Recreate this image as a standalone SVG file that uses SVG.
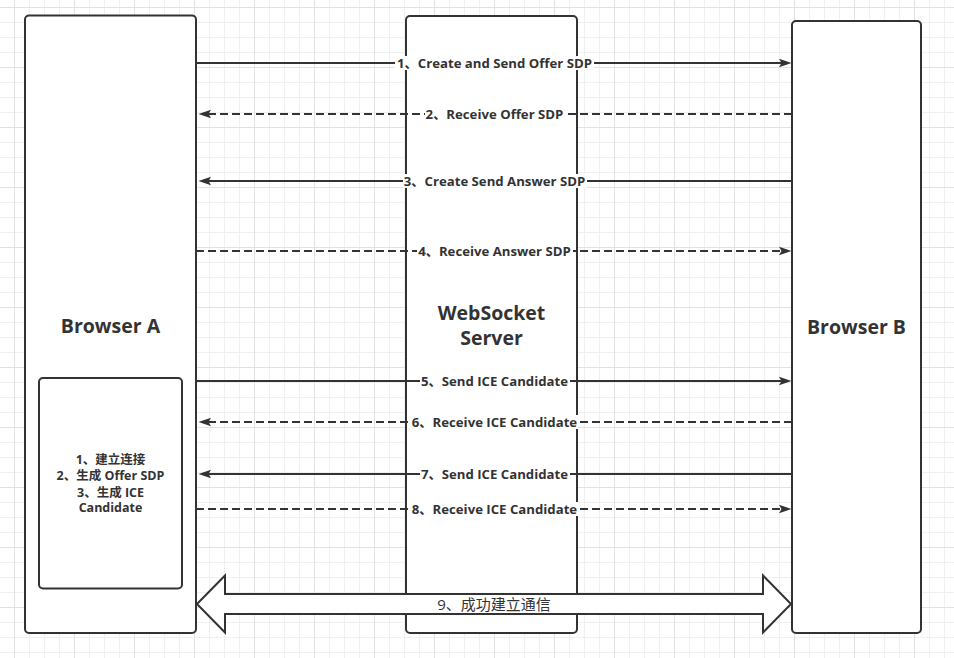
<svg xmlns="http://www.w3.org/2000/svg" width="954" height="658" viewBox="0 0 954 658">
<defs>
<pattern id="grid" patternUnits="userSpaceOnUse" x="14" y="7" width="60" height="60">
<path d="M15.5,0V60M30.5,0V60M45.5,0V60M0,15.5H60M0,30.5H60M0,45.5H60" stroke="#f0f0f0" stroke-width="1" fill="none"/>
<path d="M0.5,0V60M0,0.5H60" stroke="#e2e2e2" stroke-width="1" fill="none"/>
</pattern>
<marker id="ah" markerUnits="userSpaceOnUse" viewBox="0 0 13 10" refX="6" refY="5" markerWidth="13" markerHeight="10" orient="auto">
<path d="M0,0.8 L12.5,5 L0,9.2 L2.5,5 Z" fill="#333333"/>
</marker>
<style>
.box{fill:#ffffff;stroke:#333333;stroke-width:2}
.ln{fill:none;stroke:#333333;stroke-width:2}
.dash{stroke-dasharray:8 4}
.lbg{fill:#ffffff}
.lt{font-family:"Open Sans","Noto Sans CJK SC",sans-serif;font-size:13.2px;font-weight:bold;fill:#333333;text-anchor:middle}
.st{font-family:"Open Sans","Noto Sans CJK SC",sans-serif;font-size:12.5px;font-weight:bold;fill:#333333;text-anchor:middle}
.big{font-family:"Open Sans","Noto Sans CJK SC",sans-serif;font-size:19.5px;font-weight:bold;fill:#333333;text-anchor:middle}
</style>
</defs>
<rect x="0" y="0" width="954" height="658" fill="#ffffff"/>
<rect x="0" y="0" width="954" height="658" fill="url(#grid)"/>

<g id="browser-a">
<rect class="box" x="25" y="15.5" width="171" height="617.5" rx="4"/>
<text class="big" x="110.5" y="333">Browser A</text>
</g>
<g id="server">
<rect class="box" x="406" y="16" width="171" height="617" rx="4"/>
<text class="big" x="491.5" y="320">WebSocket</text>
<text class="big" x="491.5" y="345">Server</text>
</g>
<g id="browser-b">
<rect class="box" x="792" y="21" width="129" height="612" rx="4"/>
<text class="big" x="856.5" y="334">Browser B</text>
</g>
<g id="browser-a-steps">
<rect class="box" x="39" y="378" width="143" height="210.5" rx="4"/>
<text class="st" x="110.5" y="464">1、建立连接</text>
<text class="st" x="110.5" y="480">2、生成 Offer SDP</text>
<text class="st" x="110.5" y="496.5">3、生成 ICE</text>
<text class="st" x="110.5" y="512">Candidate</text>
</g>

<g id="connectors">
<path class="ln" d="M196,63H785" marker-end="url(#ah)"/>
<rect class="lbg" x="395" y="56" width="199" height="14"/>
<text class="lt" x="494.5" y="68">1、Create and Send Offer SDP</text>

<path class="ln dash" d="M792,114H205" marker-end="url(#ah)"/>
<rect class="lbg" x="425" y="107" width="140" height="14"/>
<text class="lt" x="494.5" y="119">2、Receive Offer SDP</text>

<path class="ln" d="M792,181H205" marker-end="url(#ah)"/>
<rect class="lbg" x="403" y="174" width="184" height="14"/>
<text class="lt" x="494.5" y="186">3、Create Send Answer SDP</text>

<path class="ln dash" d="M196,251H785" marker-end="url(#ah)"/>
<rect class="lbg" x="417" y="244" width="156" height="14"/>
<text class="lt" x="494.5" y="256">4、Receive Answer SDP</text>

<path class="ln" d="M196,381H785" marker-end="url(#ah)"/>
<rect class="lbg" x="420" y="374" width="150" height="14"/>
<text class="lt" x="494.5" y="386">5、Send ICE Candidate</text>

<path class="ln dash" d="M792,422H205" marker-end="url(#ah)"/>
<rect class="lbg" x="412" y="415" width="166" height="14"/>
<text class="lt" x="494.5" y="427">6、Receive ICE Candidate</text>

<path class="ln" d="M792,474H205" marker-end="url(#ah)"/>
<rect class="lbg" x="420" y="467" width="150" height="14"/>
<text class="lt" x="494.5" y="479">7、Send ICE Candidate</text>

<path class="ln dash" d="M196,509H785" marker-end="url(#ah)"/>
<rect class="lbg" x="412" y="502" width="166" height="14"/>
<text class="lt" x="494.5" y="514">8、Receive ICE Candidate</text>

<path class="box" d="M197,604 L225,575.5 L225,594 L763,594 L763,575.5 L791,604 L763,632.5 L763,614 L225,614 L225,632.5 Z" stroke-linejoin="miter"/>
<text x="494" y="609.5" style="font-family:'Open Sans','Noto Sans CJK SC',sans-serif;font-size:15px;fill:#333333;text-anchor:middle">9、成功建立通信</text>
</g>
</svg>
